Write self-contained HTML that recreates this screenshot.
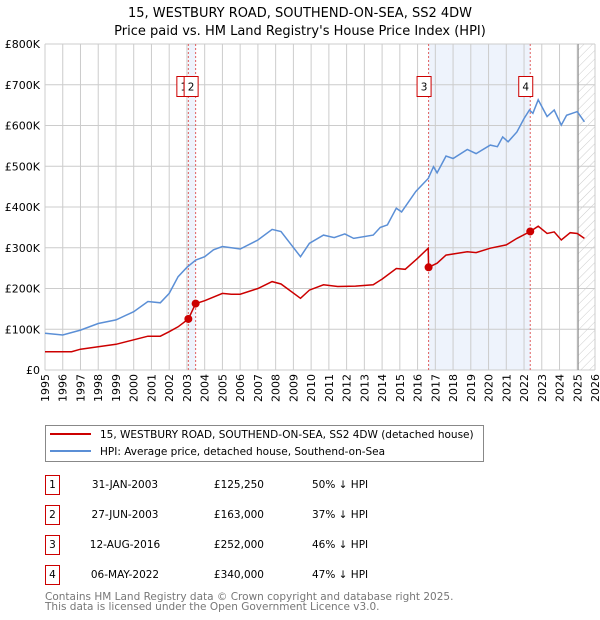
<!DOCTYPE html>
<html><head><meta charset="utf-8"><style>
body{margin:0;background:#fff;font-family:"DejaVu Sans","Liberation Sans",sans-serif;}
svg{display:block}
</style></head><body>
<svg id="c" width="600" height="620" xmlns="http://www.w3.org/2000/svg">
<text x="300" y="17" text-anchor="middle" font-size="13">15, WESTBURY ROAD, SOUTHEND-ON-SEA, SS2 4DW</text>
<text x="300" y="35" text-anchor="middle" font-size="13">Price paid vs. HM Land Registry's House Price Index (HPI)</text>
<g id="plot"></g>
<g>
<rect x="45.5" y="425.5" width="438" height="36" fill="#fff" stroke="#888"/>
<line x1="50" y1="434" x2="91" y2="434" stroke="#cc0000" stroke-width="2"/>
<text x="100" y="438" font-size="10.5">15, WESTBURY ROAD, SOUTHEND-ON-SEA, SS2 4DW (detached house)</text>
<line x1="50" y1="451" x2="91" y2="451" stroke="#5b8fd6" stroke-width="2"/>
<text x="100" y="455" font-size="10.5">HPI: Average price, detached house, Southend-on-Sea</text>
</g>
<g id="table" font-size="10.5"></g>
<text x="45" y="600" font-size="10.5" fill="#777">Contains HM Land Registry data © Crown copyright and database right 2025.</text>
<text x="45" y="610" font-size="10.5" fill="#777">This data is licensed under the Open Government Licence v3.0.</text>
</svg>
<script>
const hpiYears=[1995,1996,1997,1998,1999,2000,2000.8,2001.5,2002,2002.5,2003,2003.5,2004,2004.5,2005,2006,2007,2007.8,2008.3,2009.4,2009.9,2010.7,2011.3,2011.9,2012.4,2013.5,2013.9,2014.3,2014.8,2015.1,2015.9,2016.6,2016.9,2017.1,2017.6,2018.0,2018.8,2019.3,2020.1,2020.5,2020.8,2021.1,2021.6,2022.0,2022.3,2022.5,2022.8,2023.3,2023.7,2024.1,2024.4,2025.0,2025.4];
const hpiValues=[90,86,98,114,123,143,168,165,188,229,252,270,278,295,303,297,319,345,340,278,311,331,325,334,323,331,350,356,397,388,438,470,499,484,525,519,541,531,552,548,572,560,584,617,638,630,663,622,638,601,625,634,609];
const redYears=[1995,1996.5,1997,1998,1999,2000,2000.8,2001.5,2002,2002.5,2003.08,2003.49,2004,2005,2005.5,2006,2007,2007.8,2008.3,2009.4,2009.9,2010.7,2011.5,2012.5,2013.5,2014,2014.8,2015.3,2016.0,2016.6,2016.62,2017.1,2017.6,2018.8,2019.3,2020.1,2021,2021.6,2022.35,2022.8,2023.3,2023.7,2024.1,2024.6,2025.0,2025.4];
const redValues=[45,45,51,57,63,74,83,83,94,106,125.25,163,170,188,186,186,200,217,211,176,196,209,205,206,209,223,249,247,274,299,252,262,282,290,288,299,307,323,340,353,335,339,319,337,335,323];
const saleLabels=["1","2","3","4"];
const saleYears=[2003.08,2003.49,2016.62,2022.35];
const saleValues=[125.25,163,252,340];
const saleDates=["31-JAN-2003","27-JUN-2003","12-AUG-2016","06-MAY-2022"];
const salePrices=["£125,250","£163,000","£252,000","£340,000"];
const saleDiffs=["50% ↓ HPI","37% ↓ HPI","46% ↓ HPI","47% ↓ HPI"];
const yTicks=[0,100,200,300,400,500,600,700,800];
const yTickLabels=["£0","£100K","£200K","£300K","£400K","£500K","£600K","£700K","£800K"];
const xTicks=[1995,1996,1997,1998,1999,2000,2001,2002,2003,2004,2005,2006,2007,2008,2009,2010,2011,2012,2013,2014,2015,2016,2017,2018,2019,2020,2021,2022,2023,2024,2025,2026];

const NS="http://www.w3.org/2000/svg";
const X0=45,X1=595,Y0=370,Y1=44;
const xs=y=>X0+(y-1995)/(2026-1995)*(X1-X0);
const ys=v=>Y0-v/800*(Y0-Y1);
function mk(tag,attrs,parent){const e=document.createElementNS(NS,tag);for(const k in attrs)e.setAttribute(k,attrs[k]);parent.appendChild(e);return e;}
const plot=document.getElementById('plot');
for(const [a,b] of [[0,1],[2,3]]){
 const r=mk('rect',{x:xs(saleYears[a]),y:Y1,width:xs(saleYears[b])-xs(saleYears[a]),height:Y0-Y1,fill:'#eef3fc'},plot);
 
 
}
const defs=mk('defs',{},plot);
const pat=mk('pattern',{id:'h',width:6,height:6,patternUnits:'userSpaceOnUse',patternTransform:'rotate(45)'},defs);
mk('line',{x1:0,y1:0,x2:0,y2:6,stroke:'#ccc','stroke-width':1},pat);
const hr=mk('rect',{x:xs(2025.05),y:Y1,width:X1-xs(2025.05),height:Y0-Y1,fill:'url(#h)'},plot);


xTicks.forEach((t,i)=>{
 const l=mk('line',{x1:xs(t),x2:xs(t),y1:Y1,y2:Y0,stroke:'#ccc','stroke-width':1},plot);
 
 
 const tx=mk('text',{x:0,y:0,'font-size':11,'text-anchor':'end',transform:`translate(${xs(t)+4},374) rotate(-90)`},plot);
 tx.textContent=t;
 
 
});
yTicks.forEach((t,i)=>{
 const l=mk('line',{x1:X0,x2:X1,y1:ys(t),y2:ys(t),stroke:'#ccc','stroke-width':1},plot);
 
 
 const tx=mk('text',{x:40,y:ys(t)+4,'font-size':11,'text-anchor':'end'},plot);
 tx.textContent=yTickLabels[i];
 
 
});
const bl=mk('line',{x1:xs(2025.05),x2:xs(2025.05),y1:Y1,y2:Y0,stroke:'#888','stroke-width':1},plot);


saleYears.forEach(s=>{
 const l=mk('line',{x1:xs(s),x2:xs(s),y1:Y1,y2:Y0,stroke:'#e06060','stroke-width':1,'stroke-dasharray':'2,2'},plot);
 
 
});
const hp=mk('path',{d:hpiYears.map((y,i)=>(i?'L':'M')+xs(y).toFixed(1)+','+ys(hpiValues[i]).toFixed(1)).join(''),fill:'none',stroke:'#5b8fd6','stroke-width':1.5},plot);


const rp=mk('path',{d:redYears.map((y,i)=>(i?'L':'M')+xs(y).toFixed(1)+','+ys(redValues[i]).toFixed(1)).join(''),fill:'none',stroke:'#cc0000','stroke-width':1.5},plot);


saleYears.forEach((s,i)=>{
 const c=mk('circle',{cx:xs(s),cy:ys(saleValues[i]),r:4,fill:'#cc0000'},plot);
 
 
});
saleYears.forEach((s,i)=>{
 const cx=xs(s)-4.5;
 const g=mk('g',{},plot);
 
 
 mk('rect',{x:cx-7,y:76.5,width:14,height:20,fill:'#fff',stroke:'#cc0000','stroke-width':1},g);
 const t=mk('text',{x:cx,y:90.5,'font-size':10.5,'text-anchor':'middle'},g);
 t.textContent=saleLabels[i];
});
const tb=document.getElementById('table');
const rowY=[483,513,543,573];
saleLabels.forEach((l,i)=>{
 const g=mk('g',{},tb);
 
 
 mk('rect',{x:45.5,y:rowY[i]-7.5,width:14,height:19,fill:'#fff',stroke:'#cc0000'},g);
 let t=mk('text',{x:52.5,y:rowY[i]+5,'text-anchor':'middle'},g);t.textContent=l;
 t=mk('text',{x:125,y:rowY[i]+5,'text-anchor':'middle'},g);t.textContent=saleDates[i];
 t=mk('text',{x:264,y:rowY[i]+5,'text-anchor':'end'},g);t.textContent=salePrices[i];
 t=mk('text',{x:312,y:rowY[i]+5},g);t.textContent=saleDiffs[i];
});
</script>
</body></html>
